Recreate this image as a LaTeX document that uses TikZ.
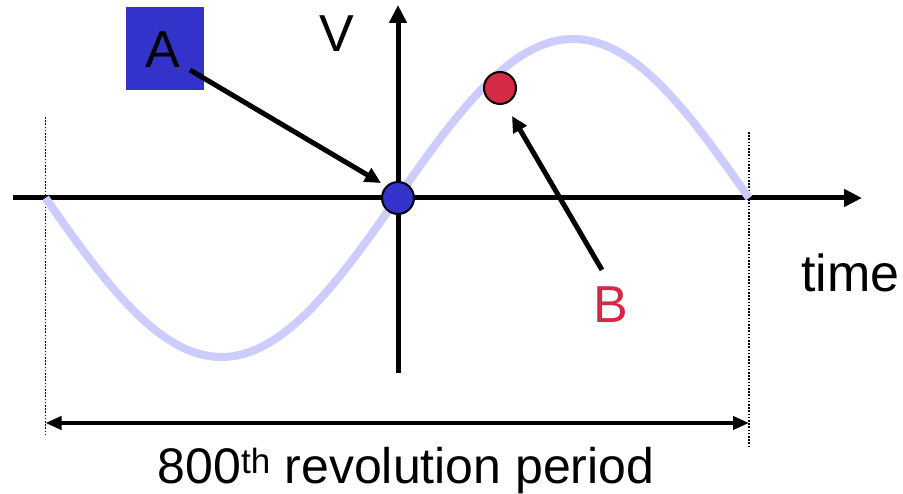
\documentclass[tikz,border=0pt]{standalone}
\usepackage{fontspec}
\setmainfont{Liberation Sans}
\usetikzlibrary{arrows.meta}
\definecolor{boxblue}{HTML}{3333CC}
\definecolor{dotred}{HTML}{D42A48}
\definecolor{wave}{HTML}{CCCCFF}
\tikzset{
  axis/.style={line width=5pt,-{Triangle[length=18pt,width=17pt]}},
  pointer/.style={line width=5pt,-{Triangle[length=16pt,width=15pt]}},
  span/.style={line width=4pt,{Triangle[length=16pt,width=13pt]}-{Triangle[length=16pt,width=13pt]}},
  guide/.style={line width=1.6pt,dash pattern=on 1.6pt off 1.6pt},
  dot/.style={circle,draw=black,line width=2pt,minimum size=32pt,inner sep=0pt},
  big/.style={font=\fontsize{52}{60}\selectfont,inner sep=0pt},
}
\begin{document}
\begin{tikzpicture}[x=1pt,y=-1pt]
\useasboundingbox (0,0) rectangle (903,494);
% dotted guides
\coordinate (gl1) at (45.5,117);
\coordinate (gl2) at (45.5,435);
\coordinate (gr1) at (749,132);
\coordinate (gr2) at (749,447);
\draw[guide] (gl1) -- (gl2);
\draw[guide] (gr1) -- (gr2);
% axes
\coordinate (xs) at (13,198);
\coordinate (xe) at (862,198);
\coordinate (ys) at (398,373);
\coordinate (ye) at (398,5);
\draw[axis] (xs) -- (xe);
% sine wave
\draw[wave,line width=8pt] plot[domain=0:360,samples=120,smooth] ({45.5+1.954167*\x},{198+159*sin(\x)});
\draw[axis] (ys) -- (ye);
% points
\node[dot,fill=boxblue] (pa) at (398,198) {};
\node[dot,fill=dotred] (pb) at (500,88) {};
% box A
\node[fill=boxblue,minimum width=78pt,minimum height=83pt,inner sep=0pt] (boxA) at (165,48.5) {};
\node[big,anchor=base] (lblA) at (162.5,68) {A};
% labels
\node[big,anchor=base] (lblV) at (336.5,52) {V};
\node[big,anchor=base,text=dotred] (lblB) at (611,323) {B};
\node[big,anchor=base west] (lblT) at (801,292) {time};
% pointers
\coordinate (a0) at (190,70);
\coordinate (a1) at (381,183);
\coordinate (b0) at (602,270);
\coordinate (b1) at (512,116);
\draw[pointer] (a0) -- (a1);
\draw[pointer] (b0) -- (b1);
% period span
\coordinate (s0) at (45.5,423);
\coordinate (s1) at (749,423);
\draw[span] (s0) -- (s1);
\node[big,anchor=base,font=\fontsize{50}{60}\selectfont] (lblP) at (406,483) {800\textsuperscript{th} revolution period};
\end{tikzpicture}
\end{document}
